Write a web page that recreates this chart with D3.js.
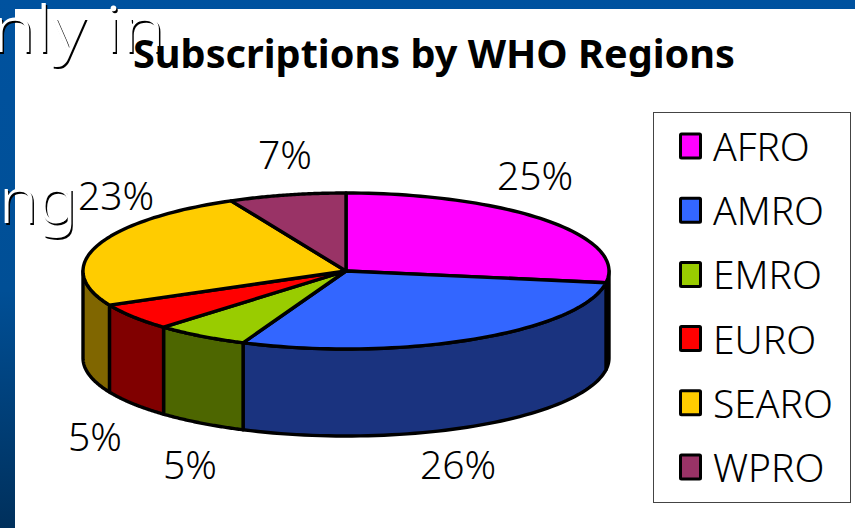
<!DOCTYPE html>
<html><head><meta charset="utf-8">
<script src="https://cdn.jsdelivr.net/npm/d3@7"></script>
<style>html,body{margin:0;padding:0;background:#fff;overflow:hidden}svg{display:block}</style>
</head><body><svg id="c" width="855" height="528"></svg>
<script>
const categories = ["AFRO","AMRO","EMRO","EURO","SEARO","WPRO"];
const sliceShares = [27.4,29,5.8,5.6,25,7.2];
const labels = ["25%","26%","5%","5%","23%","7%"];
const topColors = ["#FF00FF","#3366FF","#99CC00","#FF0000","#FFCC00","#993366"];
const sideColors = ["#800080","#1A337F","#4D6600","#800000","#806600","#4D1A33"];
const titleText = "Subscriptions by WHO Regions";
const bgLines = ["nly in","ng"];

const font = "'Noto Sans',sans-serif";
const svg = d3.select("#c");
const defs = svg.append("defs");
const g = defs.append("linearGradient").attr("id","bg").attr("x1",0).attr("x2",0).attr("y1",0).attr("y2",1);
g.append("stop").attr("offset","0").attr("stop-color","#00529F");
g.append("stop").attr("offset","0.55").attr("stop-color","#004F96");
g.append("stop").attr("offset","1").attr("stop-color","#00305C");
svg.append("rect").attr("width",855).attr("height",528).attr("fill","url(#bg)");
svg.append("rect").attr("x",15).attr("y",9).attr("width",840).attr("height",519).attr("fill","#fff");

// background slide text
const bgPos = [{x:-8,y:52,w:173},{x:-1,y:223,w:78}];
bgLines.forEach((t,i)=>{
  [["#000",1.5],["#fff",0]].forEach(([c,o])=>{
    svg.append("text").attr("x",bgPos[i].x+o).attr("y",bgPos[i].y+o).attr("fill",c)
      .attr("font-family",font).attr("font-size",64).attr("font-weight",300)
      .attr("textLength",bgPos[i].w).attr("lengthAdjust","spacingAndGlyphs").text(t);
  });
});

svg.append("text").attr("x",133).attr("y",68).attr("font-family",font).attr("font-weight",700)
  .attr("font-size",39).attr("textLength",602).attr("lengthAdjust","spacingAndGlyphs").attr("fill","#000").text(titleText);

const cx=346, cy=271, rx=263, ry=78, depth=87;
const sx=d3.scaleLinear().domain([-1,1]).range([cx-rx,cx+rx]);
const sy=d3.scaleLinear().domain([-1,1]).range([cy-ry,cy+ry]);
const pie=d3.pie().sort(null).value(d=>d);
const arcs=pie(sliceShares);
const line=d3.line();
const pt=(a,dy=0)=>[sx(Math.sin(a)),sy(-Math.cos(a))+dy];
const PI=Math.PI;

arcs.forEach((d,i)=>{
  const a0=Math.max(d.startAngle,PI/2), a1=Math.min(d.endAngle,3*PI/2);
  if(a1<=a0) return;
  const ts=d3.range(0,61).map(k=>a0+(a1-a0)*k/60);
  const pts=ts.map(t=>pt(t)).concat(ts.slice().reverse().map(t=>pt(t,depth)));
  svg.append("path").attr("d",line(pts)+"Z").attr("fill",sideColors[i]).attr("stroke","#000").attr("stroke-width",3.4).attr("stroke-linejoin","round");
});
arcs.forEach((d,i)=>{
  const n=60, ts=d3.range(0,n+1).map(k=>d.startAngle+(d.endAngle-d.startAngle)*k/n);
  const pts=[[cx,cy]].concat(ts.map(t=>pt(t)));
  svg.append("path").attr("d",line(pts)+"Z").attr("fill",topColors[i]).attr("stroke","#000").attr("stroke-width",3.4).attr("stroke-linejoin","round");
});

const labelPos=[[535,190],[458,479],[190,479],[95,451],[116,210],[285,169]];
svg.selectAll("text.lab").data(labels).join("text").attr("class","lab")
  .attr("x",(d,i)=>labelPos[i][0]).attr("y",(d,i)=>labelPos[i][1]).attr("text-anchor","middle")
  .attr("font-family",font).attr("font-size",39).attr("font-weight",300).attr("fill","#000").text(d=>d);

svg.append("rect").attr("x",653.5).attr("y",112.5).attr("width",197).attr("height",390).attr("fill","#fff").attr("stroke","#444").attr("stroke-width",1);
const rowY=d3.scalePoint().domain(categories).range([146,467]);
const leg=svg.selectAll("g.leg").data(categories).join("g").attr("class","leg").attr("transform",d=>`translate(0,${rowY(d)})`);
leg.append("rect").attr("x",680.5).attr("y",-12).attr("width",20).attr("height",24).attr("fill",(d,i)=>topColors[i]).attr("stroke","#000").attr("stroke-width",3).attr("rx",1);
leg.append("text").attr("x",713).attr("y",15).attr("font-family",font).attr("font-size",39).attr("font-weight",300).attr("fill","#000").text(d=>d);
</script></body></html>
